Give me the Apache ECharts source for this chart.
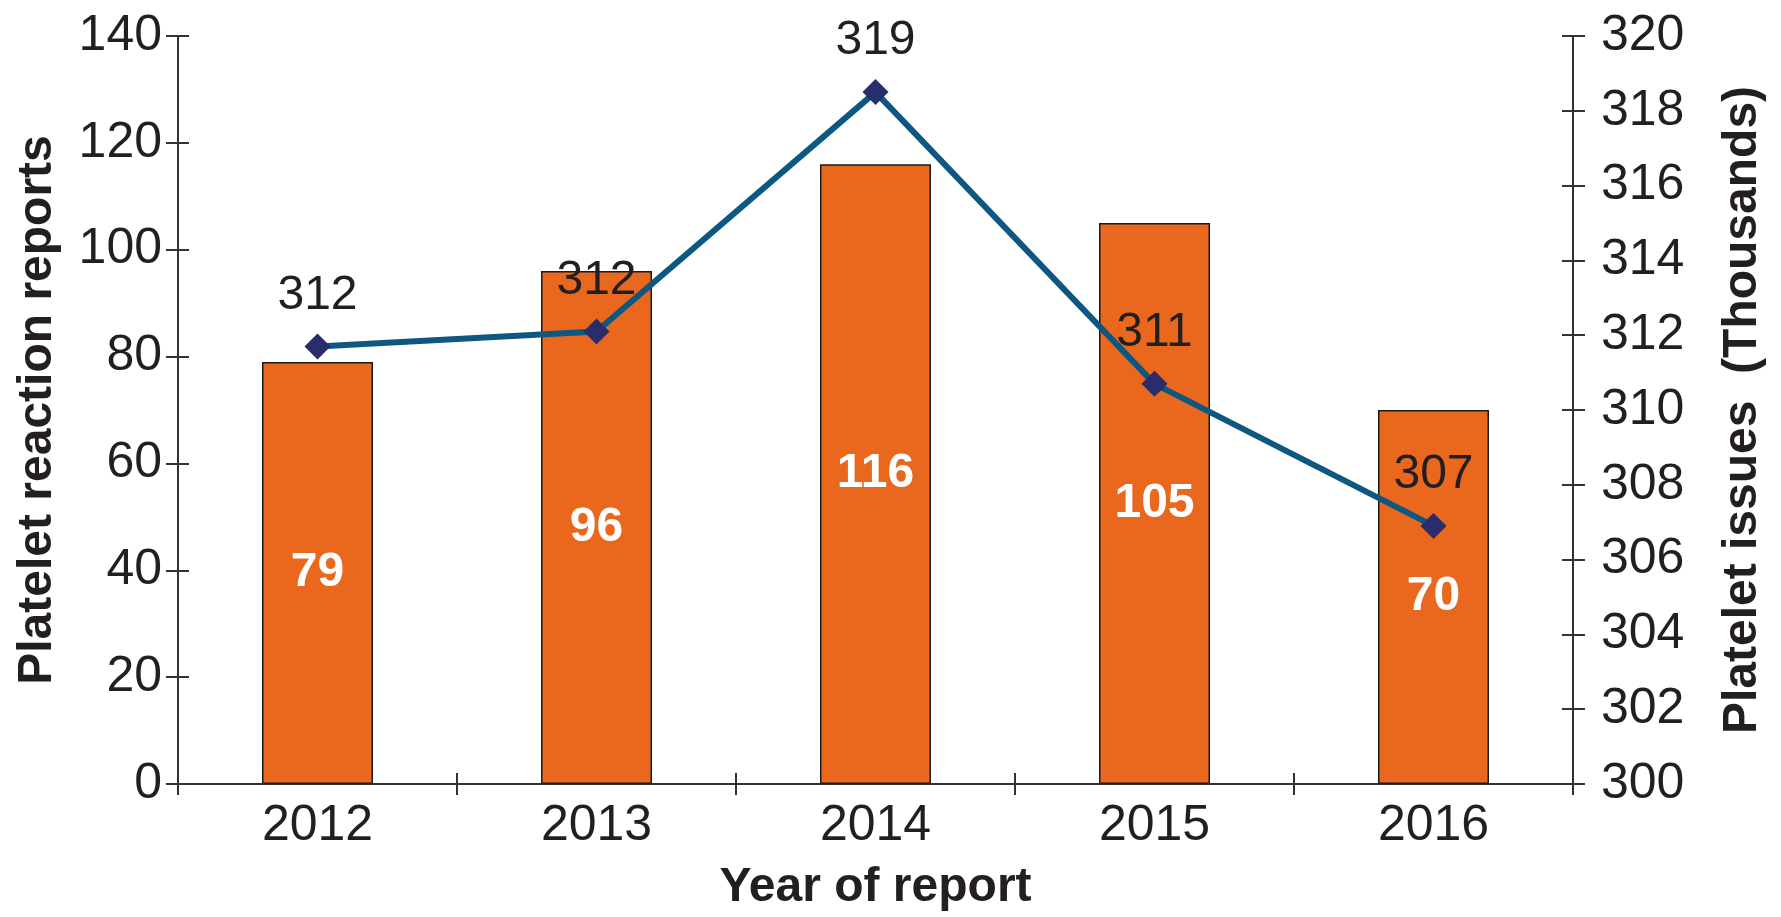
<!DOCTYPE html>
<html>
<head>
<meta charset="utf-8">
<script src="https://cdn.jsdelivr.net/npm/echarts@6/dist/echarts.min.js"></script>
<style>
  html, body { margin: 0; padding: 0; background: #fff; }
  #main { width: 1781px; height: 917px; }
</style>
</head>
<body>
<div id="main"></div>
<script>
// data
const years = ['2012', '2013', '2014', '2015', '2016']
const reactionReports = [79, 96, 116, 105, 70]
const plateletIssues = [311.7, 312.1, 318.5, 310.7, 306.9] // thousands
const leftTicks = { min: 0, max: 140, interval: 20 }
const rightTicks = { min: 300, max: 320, interval: 2 }

const textColor = '#231f20'
const axisColor = '#333'
const font = '"Liberation Sans", Arial, Helvetica, sans-serif'

const chartBox = echarts.init(document.getElementById('main'))

// ticks in the picture cross the axis line, so each axis gets a twin with inside ticks
const tickOnly = (extra) => Object.assign({
  axisLine: { show: false },
  axisLabel: { show: false },
  splitLine: { show: false },
  axisTick: { show: true, inside: true, length: 11, lineStyle: { color: axisColor, width: 2 } }
}, extra)

const option = {
  animation: false,
  grid: { left: 178, right: 208, top: 36, bottom: 131 },
  xAxis: [
    {
      type: 'category',
      data: years,
      name: 'Year of report',
      nameLocation: 'middle',
      nameGap: 80,
      nameTextStyle: { fontFamily: font, fontSize: 48, fontWeight: 'bold', color: textColor },
      axisLine: { lineStyle: { color: axisColor, width: 2 } },
      axisTick: { show: true, length: 11, alignWithLabel: false, lineStyle: { color: axisColor, width: 2 } },
      axisLabel: { fontFamily: font, fontSize: 50, color: textColor, margin: 17 }
    },
    tickOnly({ type: 'category', data: years, position: 'bottom' })
  ],
  yAxis: [
    {
      type: 'value',
      position: 'left',
      min: leftTicks.min,
      max: leftTicks.max,
      interval: leftTicks.interval,
      name: 'Platelet reaction reports',
      nameLocation: 'middle',
      nameRotate: 90,
      nameGap: 116,
      nameTextStyle: { fontFamily: font, fontSize: 48, fontWeight: 'bold', color: textColor },
      axisLine: { show: true, lineStyle: { color: axisColor, width: 2 } },
      axisTick: { show: true, length: 12, lineStyle: { color: axisColor, width: 2 } },
      axisLabel: { fontFamily: font, fontSize: 50, color: textColor, margin: 16 },
      splitLine: { show: false }
    },
    {
      type: 'value',
      position: 'right',
      min: rightTicks.min,
      max: rightTicks.max,
      interval: rightTicks.interval,
      name: 'Platelet issues  (Thousands)',
      nameLocation: 'middle',
      nameRotate: 90,
      nameGap: 146,
      nameTextStyle: { fontFamily: font, fontSize: 48, fontWeight: 'bold', color: textColor },
      axisLine: { show: true, lineStyle: { color: axisColor, width: 2 } },
      axisTick: { show: true, length: 12, lineStyle: { color: axisColor, width: 2 } },
      axisLabel: { fontFamily: font, fontSize: 50, color: textColor, margin: 28 },
      splitLine: { show: false }
    },
    tickOnly({ type: 'value', position: 'left', min: leftTicks.min, max: leftTicks.max, interval: leftTicks.interval }),
    tickOnly({ type: 'value', position: 'right', min: rightTicks.min, max: rightTicks.max, interval: rightTicks.interval })
  ],
  series: [
    {
      name: 'Platelet reaction reports',
      type: 'bar',
      xAxisIndex: 0,
      yAxisIndex: 0,
      barWidth: 111,
      data: reactionReports,
      itemStyle: { color: '#e9681e', borderColor: '#1a1a1a', borderWidth: 1.5 },
      label: {
        show: true,
        position: 'inside',
        fontFamily: font,
        fontSize: 48,
        fontWeight: 'bold',
        color: '#fff'
      }
    },
    {
      name: 'Platelet issues',
      type: 'line',
      xAxisIndex: 0,
      yAxisIndex: 1,
      data: plateletIssues,
      symbol: 'diamond',
      symbolSize: 26,
      itemStyle: { color: '#2a2d6b' },
      lineStyle: { color: '#0d5780', width: 6 },
      label: {
        show: true,
        position: 'top',
        distance: 14,
        fontFamily: font,
        fontSize: 48,
        color: textColor,
        formatter: (p) => Math.round(p.value)
      },
      z: 5
    }
  ]
}
chartBox.setOption(option)
window.addEventListener('resize', function () {
  chartBox.resize()
})
</script>
</body>
</html>
